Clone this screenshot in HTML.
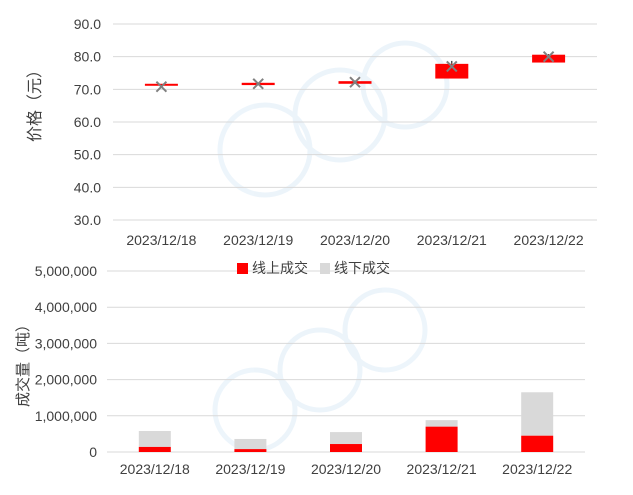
<!DOCTYPE html>
<html><head><meta charset="utf-8"><style>
body{margin:0;background:#fff}
svg text{font-family:"Liberation Sans","Noto Sans CJK SC",sans-serif;fill:#404040}
</style></head><body>
<svg width="633" height="490" viewBox="0 0 633 490" xmlns="http://www.w3.org/2000/svg">
<g fill="none" stroke="#e8f2fa" stroke-width="5" opacity="0.8">
<circle cx="265" cy="150" r="45"/><circle cx="340" cy="115" r="45"/><circle cx="405" cy="85" r="42"/>
<circle cx="255" cy="410" r="40"/><circle cx="320" cy="370" r="40"/><circle cx="385" cy="330" r="40"/>
</g>
<g id="topG"></g>
<g id="botG"></g>
<text x="40" y="102" font-size="16" transform="rotate(-90 40 102)" text-anchor="middle">价格（元）</text>
<text x="28" y="362" font-size="15" transform="rotate(-90 28 362)" text-anchor="middle">成交量（吨）</text>
<g>
<rect x="237" y="263" width="11" height="11" fill="#ff0000"/>
<text x="252" y="273" font-size="14">线上成交</text>
<rect x="320" y="263" width="10" height="11" fill="#d9d9d9"/>
<text x="334" y="273" font-size="14">线下成交</text>
</g>
</svg>
<script>
const categories=["2023/12/18","2023/12/19","2023/12/20","2023/12/21","2023/12/22"];
const openP=[71.3,71.3,71.7,73.3,78.2];
const closeP=[71.7,72.0,72.5,77.8,80.6];
const highP=[71.7,72.0,72.7,78.7,80.8];
const avgP=[70.8,71.7,72.2,77.0,80.0];
const priceTicks=[30,40,50,60,70,80,90];
const online=[140000,80000,220000,700000,450000];
const total=[580000,360000,550000,880000,1650000];
const volTicks=[0,1000000,2000000,3000000,4000000,5000000];
const NS="http://www.w3.org/2000/svg";
function mk(p,t,a){const e=document.createElementNS(NS,t);for(const k in a)e.setAttribute(k,a[k]);p.appendChild(e);return e;}
const topG=document.getElementById('topG'),botG=document.getElementById('botG');
const tx0=113,tx1=597,ty=v=>220-(v-30)/60*(220-24);
const txc=i=>tx0+(tx1-tx0)/5*(i+0.5);
priceTicks.forEach(v=>{
 const l=mk(topG,'line',{x1:tx0,x2:tx1,y1:ty(v),y2:ty(v),stroke:'#d9d9d9'});
 
 
 const t=mk(topG,'text',{x:101,y:ty(v)+5,'font-size':14,'text-anchor':'end'});t.textContent=v.toFixed(1);
 
 
});
categories.forEach((c,i)=>{
 const x=txc(i),w=33;
 const wk=mk(topG,'line',{x1:x,x2:x,y1:ty(highP[i]),y2:ty(Math.max(openP[i],closeP[i])),stroke:'#000'});
 
 
 const y1=ty(Math.max(openP[i],closeP[i])),y2=ty(Math.min(openP[i],closeP[i]));
 const r=mk(topG,'rect',{x:x-w/2,y:y1,width:w,height:Math.max(2,y2-y1),fill:'#ff0000'});
 
 
 const ay=ty(avgP[i]);
 const g=mk(topG,'path',{d:`M${x-5} ${ay-5}L${x+5} ${ay+5}M${x-5} ${ay+5}L${x+5} ${ay-5}`,stroke:'#808080','stroke-width':2});
 
 
 const t=mk(topG,'text',{x:x,y:245,'font-size':14,'text-anchor':'middle'});t.textContent=c;
 
 
});
const bx0=107,bx1=585,by=v=>452-v/5000000*(452-271);
const bxc=i=>bx0+(bx1-bx0)/5*(i+0.5);
volTicks.forEach(v=>{
 const l=mk(botG,'line',{x1:bx0,x2:bx1,y1:by(v),y2:by(v),stroke:'#d9d9d9'});
 
 
 const t=mk(botG,'text',{x:97,y:by(v)+5,'font-size':14,'text-anchor':'end'});t.textContent=v.toLocaleString('en-US');
 
 
});
categories.forEach((c,i)=>{
 const x=bxc(i),w=32;
 const g=mk(botG,'rect',{x:x-w/2,y:by(total[i]),width:w,height:by(online[i])-by(total[i]),fill:'#d9d9d9'});
 
 
 const r=mk(botG,'rect',{x:x-w/2,y:by(online[i]),width:w,height:452-by(online[i]),fill:'#ff0000'});
 
 
 const t=mk(botG,'text',{x:x,y:474,'font-size':14,'text-anchor':'middle'});t.textContent=c;
 
 
});
</script>
</body></html>
